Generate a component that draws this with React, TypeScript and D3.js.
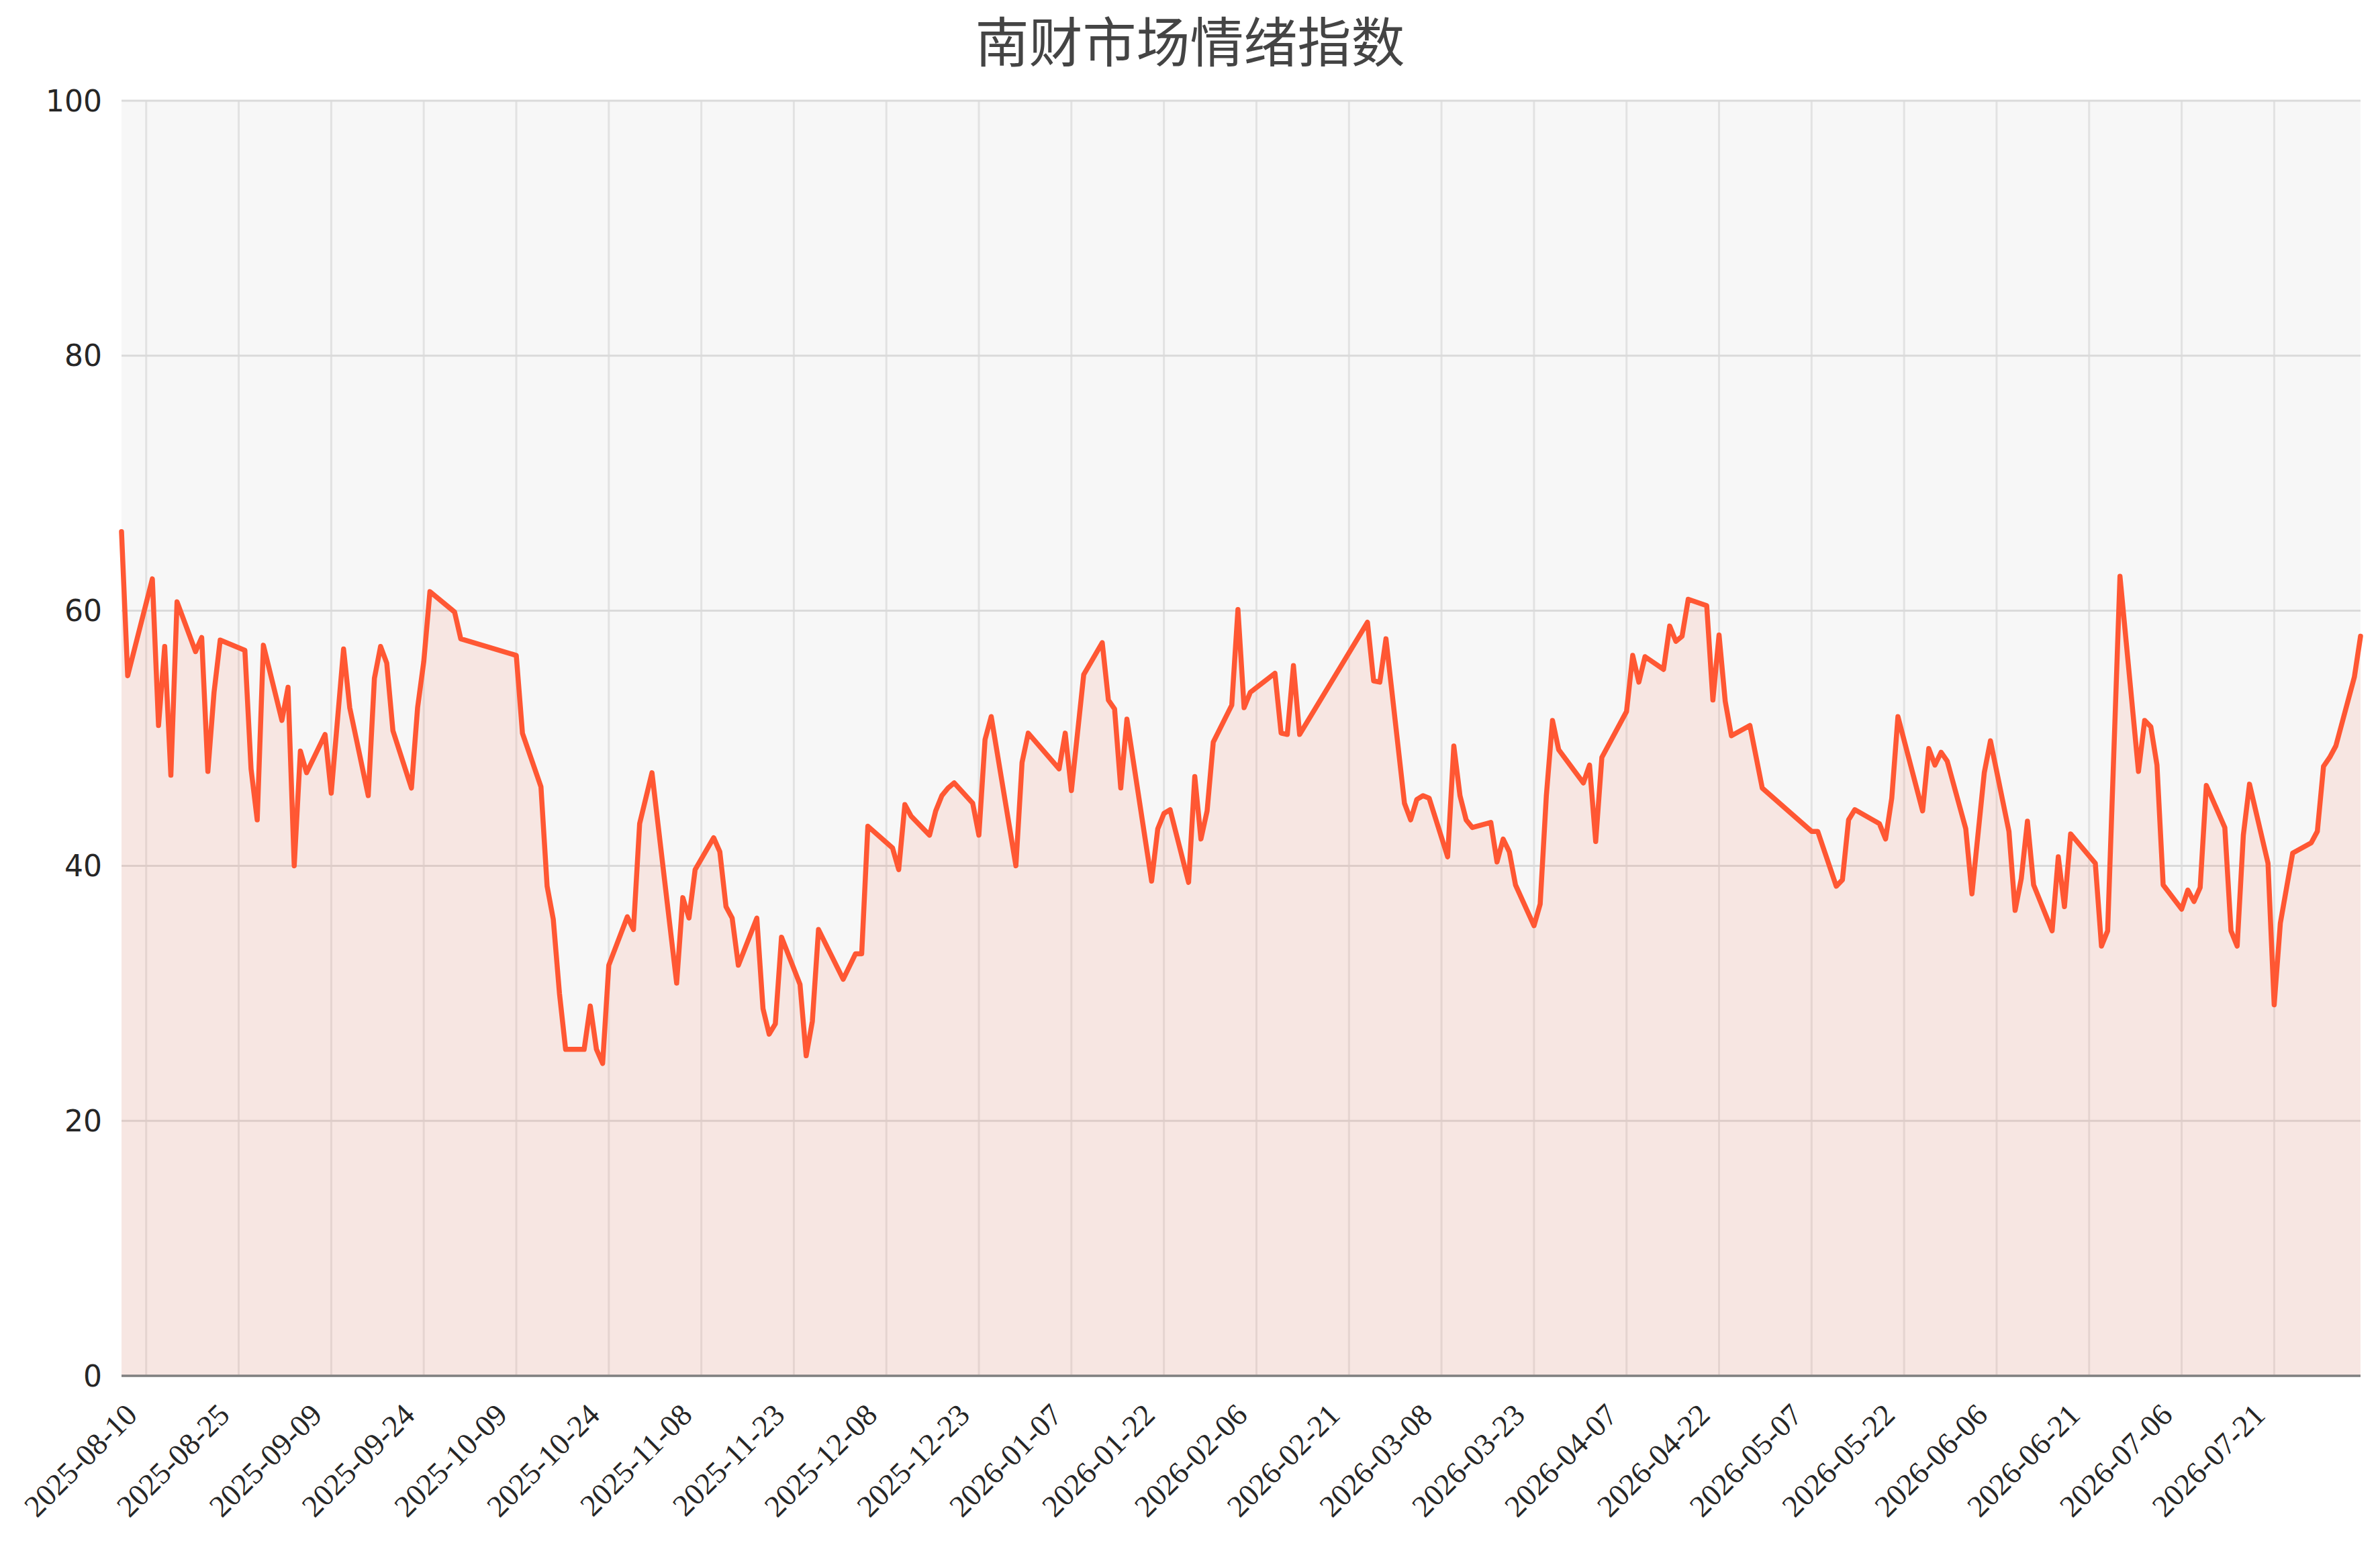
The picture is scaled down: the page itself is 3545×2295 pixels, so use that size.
import React from "react";
import * as d3 from "d3";

const title = "南财市场情绪指数";

const dates = [
  "2025-08-06","2025-08-07","2025-08-11","2025-08-12","2025-08-13","2025-08-14","2025-08-15","2025-08-18","2025-08-19","2025-08-20",
  "2025-08-21","2025-08-22","2025-08-26","2025-08-27","2025-08-28","2025-08-29","2025-09-01","2025-09-02","2025-09-03","2025-09-04",
  "2025-09-05","2025-09-08","2025-09-09","2025-09-11","2025-09-12","2025-09-15","2025-09-16","2025-09-17","2025-09-18","2025-09-19",
  "2025-09-22","2025-09-23","2025-09-24","2025-09-25","2025-09-29","2025-09-30","2025-10-09","2025-10-10","2025-10-13","2025-10-14",
  "2025-10-15","2025-10-16","2025-10-17","2025-10-20","2025-10-21","2025-10-22","2025-10-23","2025-10-24","2025-10-27","2025-10-28",
  "2025-10-29","2025-10-31","2025-11-04","2025-11-05","2025-11-06","2025-11-07","2025-11-10","2025-11-11","2025-11-12","2025-11-13",
  "2025-11-14","2025-11-17","2025-11-18","2025-11-19","2025-11-20","2025-11-21","2025-11-24","2025-11-25","2025-11-26","2025-11-27",
  "2025-12-01","2025-12-03","2025-12-04","2025-12-05","2025-12-09","2025-12-10","2025-12-11","2025-12-12","2025-12-15","2025-12-16",
  "2025-12-17","2025-12-18","2025-12-19","2025-12-22","2025-12-23","2025-12-24","2025-12-25","2025-12-29","2025-12-30","2025-12-31",
  "2026-01-05","2026-01-06","2026-01-07","2026-01-09","2026-01-12","2026-01-13","2026-01-14","2026-01-15","2026-01-16","2026-01-20",
  "2026-01-21","2026-01-22","2026-01-23","2026-01-26","2026-01-27","2026-01-28","2026-01-29","2026-01-30","2026-02-02","2026-02-03",
  "2026-02-04","2026-02-05","2026-02-09","2026-02-10","2026-02-11","2026-02-12","2026-02-13","2026-02-24","2026-02-25","2026-02-26",
  "2026-02-27","2026-03-02","2026-03-03","2026-03-04","2026-03-05","2026-03-06","2026-03-09","2026-03-10","2026-03-11","2026-03-12",
  "2026-03-13","2026-03-16","2026-03-17","2026-03-18","2026-03-19","2026-03-20","2026-03-23","2026-03-24","2026-03-25","2026-03-26",
  "2026-03-27","2026-03-31","2026-04-01","2026-04-02","2026-04-03","2026-04-07","2026-04-08","2026-04-09","2026-04-10","2026-04-13",
  "2026-04-14","2026-04-15","2026-04-16","2026-04-17","2026-04-20","2026-04-21","2026-04-22","2026-04-23","2026-04-24","2026-04-27",
  "2026-04-29","2026-05-07","2026-05-08","2026-05-11","2026-05-12","2026-05-13","2026-05-14","2026-05-18","2026-05-19","2026-05-20",
  "2026-05-21","2026-05-25","2026-05-26","2026-05-27","2026-05-28","2026-05-29","2026-06-01","2026-06-02","2026-06-04","2026-06-05",
  "2026-06-08","2026-06-09","2026-06-10","2026-06-11","2026-06-12","2026-06-15","2026-06-16","2026-06-17","2026-06-18","2026-06-22",
  "2026-06-23","2026-06-24","2026-06-26","2026-06-29","2026-06-30","2026-07-01","2026-07-02","2026-07-03","2026-07-06","2026-07-07",
  "2026-07-08","2026-07-09","2026-07-10","2026-07-13","2026-07-14","2026-07-15","2026-07-16","2026-07-17","2026-07-20","2026-07-21",
  "2026-07-22","2026-07-24","2026-07-27","2026-07-28","2026-07-29","2026-07-30","2026-07-31","2026-08-03","2026-08-04",
];

const sentiment = [
  66.2,54.9,62.5,51.0,57.2,47.1,60.7,56.8,57.9,47.4,
  53.6,57.7,56.9,47.6,43.6,57.3,51.4,54.0,40.0,49.0,
  47.3,50.3,45.7,57.0,52.4,45.5,54.7,57.2,55.9,50.6,
  46.1,52.4,56.0,61.5,59.9,57.8,56.5,50.4,46.2,38.4,
  35.8,30.0,25.6,25.6,29.0,25.6,24.5,32.2,36.0,35.0,
  43.3,47.3,30.8,37.5,35.9,39.7,42.2,41.1,36.8,35.9,
  32.2,35.9,28.8,26.8,27.6,34.4,30.7,25.1,27.8,35.0,
  31.1,33.1,33.1,43.1,41.4,39.7,44.8,43.9,42.4,44.3,
  45.5,46.1,46.5,44.9,42.4,49.9,51.7,40.0,48.1,50.4,
  47.6,50.4,45.9,55.0,57.5,53.0,52.3,46.1,51.5,38.8,
  42.9,44.1,44.4,38.7,47.0,42.1,44.3,49.7,52.6,60.1,
  52.4,53.6,55.1,50.4,50.3,55.7,50.3,59.1,54.5,54.4,
  57.8,44.9,43.6,45.2,45.5,45.3,40.7,49.4,45.5,43.6,
  43.0,43.4,40.3,42.1,41.1,38.5,35.3,37.0,45.5,51.4,
  49.1,46.5,47.9,41.9,48.5,52.1,56.5,54.4,56.4,55.4,
  58.8,57.6,58.0,60.9,60.4,53.0,58.1,52.9,50.2,51.0,
  46.1,42.7,42.7,38.4,38.9,43.6,44.4,43.3,42.1,45.3,
  51.7,44.3,49.2,47.9,48.9,48.2,42.9,37.8,47.3,49.8,
  42.7,36.5,39.0,43.5,38.5,34.9,40.7,36.8,42.5,40.2,
  33.7,34.9,62.7,47.4,51.4,50.9,47.9,38.5,36.6,38.1,
  37.2,38.3,46.3,43.0,34.9,33.7,42.4,46.4,40.2,29.1,
  35.5,41.0,41.8,42.7,47.8,48.5,49.4,54.8,58.0,
];

const xTickLabels = [
  "2025-08-10","2025-08-25","2025-09-09","2025-09-24","2025-10-09","2025-10-24","2025-11-08","2025-11-23",
  "2025-12-08","2025-12-23","2026-01-07","2026-01-22","2026-02-06","2026-02-21","2026-03-08","2026-03-23",
  "2026-04-07","2026-04-22","2026-05-07","2026-05-22","2026-06-06","2026-06-21","2026-07-06","2026-07-21",
];

const yTicks = [0, 20, 40, 60, 80, 100];

const W = 3545;
const H = 2295;
const M = { left: 181, right: 3516, top: 150, bottom: 2049 };

const parse = d3.utcParse("%Y-%m-%d");

export default function App() {
  const data = dates.map((d, i) => ({ date: parse(d) as Date, value: sentiment[i] }));

  const x = d3
    .scaleUtc()
    .domain(d3.extent(data, (d) => d.date) as [Date, Date])
    .range([M.left, M.right]);
  const y = d3.scaleLinear().domain([0, 100]).range([M.bottom, M.top]);

  const line = d3
    .line<{ date: Date; value: number }>()
    .x((d) => x(d.date))
    .y((d) => y(d.value));
  const area = d3
    .area<{ date: Date; value: number }>()
    .x((d) => x(d.date))
    .y0(y(0))
    .y1((d) => y(d.value));

  const lineColor = "#FF5733";

  return (
    <svg
      width={W}
      height={H}
      style={{ position: "absolute", left: 0, top: 0, background: "#ffffff" }}
    >
      <rect x={0} y={0} width={W} height={H} fill="#ffffff" />
      <text
        x={W / 2}
        y={92}
        textAnchor="middle"
        fontFamily="'Noto Sans CJK SC', sans-serif"
        fontSize={80}
        fill="#444444"
      >
        {title}
      </text>

      <rect
        x={M.left}
        y={M.top}
        width={M.right - M.left}
        height={M.bottom - M.top}
        fill="#f7f7f7"
      />

      {xTickLabels.map((t) => {
        const xx = x(parse(t) as Date);
        return (
          <line
            key={"vg" + t}
            x1={xx}
            x2={xx}
            y1={M.top}
            y2={M.bottom}
            stroke="#e2e2e2"
            strokeWidth={3}
          />
        );
      })}
      {yTicks.map((v) => (
        <line
          key={"hg" + v}
          x1={M.left}
          x2={M.right}
          y1={y(v)}
          y2={y(v)}
          stroke="#dadada"
          strokeWidth={3}
        />
      ))}

      <path d={area(data) ?? ""} fill={lineColor} fillOpacity={0.1} />
      <path
        d={line(data) ?? ""}
        fill="none"
        stroke={lineColor}
        strokeWidth={7.5}
        strokeLinejoin="round"
        strokeLinecap="round"
      />

      <line
        x1={M.left}
        x2={M.right}
        y1={M.bottom}
        y2={M.bottom}
        stroke="#808080"
        strokeWidth={3.5}
      />

      {yTicks.map((v) => (
        <text
          key={"yl" + v}
          x={152}
          y={y(v)}
          textAnchor="end"
          dominantBaseline="central"
          fontFamily="'DejaVu Sans', sans-serif"
          fontSize={44}
          fill="#262626"
        >
          {v}
        </text>
      ))}

      {xTickLabels.map((t) => {
        const xx = x(parse(t) as Date);
        return (
          <text
            key={"xl" + t}
            transform={`translate(${xx - 11},${M.bottom + 61}) rotate(-45)`}
            textAnchor="end"
            fontFamily="'Liberation Serif', serif"
            fontSize={46}
            fill="#262626"
          >
            {t}
          </text>
        );
      })}
    </svg>
  );
}
